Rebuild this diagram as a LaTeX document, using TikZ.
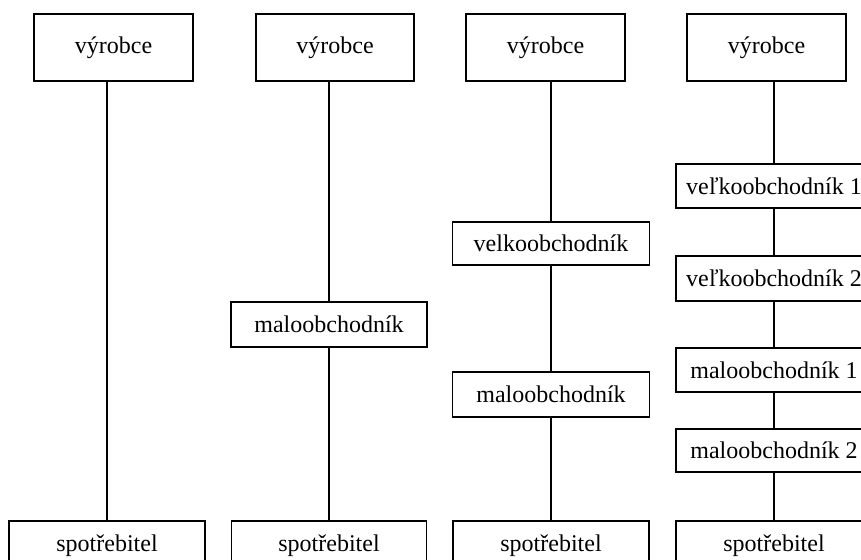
\documentclass[tikz,border=0pt]{standalone}
\usepackage{fontspec}
\setmainfont{Liberation Serif}
\begin{document}
\begin{tikzpicture}[x=1pt,y=-1pt,
  box/.style={draw,line width=1.8pt,inner sep=0pt,font=\fontsize{24}{28}\selectfont,fill=white},
  link/.style={line width=2pt}]
\useasboundingbox (0,0) rectangle (861,559);
\clip (0,0) rectangle (861,559);
% column 1
\node[box,minimum width=159pt,minimum height=67pt] (v1) at (113.5,47.5) {výrobce};
\node[box,minimum width=196pt,minimum height=60pt,text depth=16pt] (s1) at (107,550.7) {spotřebitel};
% column 2
\node[box,minimum width=158pt,minimum height=67pt] (v2) at (335,47.5) {výrobce};
\node[box,minimum width=196pt,minimum height=45pt] (m2) at (329,324.3) {maloobchodník};
\node[box,minimum width=195pt,minimum height=60pt,text depth=16pt] (s2) at (329,550.7) {spotřebitel};
% column 3
\node[box,minimum width=159pt,minimum height=67pt] (v3) at (545.5,47.5) {výrobce};
\node[box,minimum width=197pt,minimum height=43.5pt] (w3) at (551,243.4) {velkoobchodník};
\node[box,minimum width=197pt,minimum height=45.6pt] (m3) at (551,394.5) {maloobchodník};
\node[box,minimum width=196pt,minimum height=60pt,text depth=16pt] (s3) at (551,550.7) {spotřebitel};
% column 4
\node[box,minimum width=159pt,minimum height=67pt] (v4) at (766.5,47.5) {výrobce};
\node[box,minimum width=196pt,minimum height=44pt] (wa4) at (774,186) {veľkoobchodník 1};
\node[box,minimum width=196pt,minimum height=44.7pt] (wb4) at (774,278.3) {veľkoobchodník 2};
\node[box,minimum width=196pt,minimum height=44pt] (ma4) at (774,370) {maloobchodník 1};
\node[box,minimum width=196pt,minimum height=43pt] (mb4) at (774,450.5) {maloobchodník 2};
\node[box,minimum width=196pt,minimum height=60pt,text depth=16pt] (s4) at (774,550.7) {spotřebitel};
% connectors
\draw[link] (v1.south -| s1.north) -- (s1.north);
\draw[link] (v2.south -| m2.north) -- (m2.north);
\draw[link] (m2.south) -- (s2.north);
\draw[link] (v3.south -| w3.north) -- (w3.north);
\draw[link] (w3.south) -- (m3.north);
\draw[link] (m3.south) -- (s3.north);
\draw[link] (v4.south -| wa4.north) -- (wa4.north);
\draw[link] (wa4.south) -- (wb4.north);
\draw[link] (wb4.south) -- (ma4.north);
\draw[link] (ma4.south) -- (mb4.north);
\draw[link] (mb4.south) -- (s4.north);
\end{tikzpicture}
\end{document}
